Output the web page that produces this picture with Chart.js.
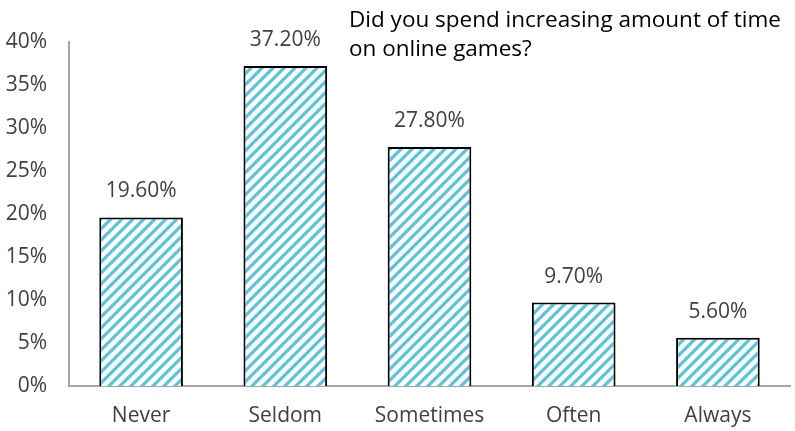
<!DOCTYPE html>
<html>
<head>
<meta charset="utf-8">
<script src="https://cdn.jsdelivr.net/npm/chart.js@4/dist/chart.umd.min.js"></script>
<style>
  body { margin: 0; background: #fff; }
</style>
</head>
<body>
<canvas id="games" width="795" height="431"></canvas>
<script>
const categories = ["Never", "Seldom", "Sometimes", "Often", "Always"];
const shares = [19.6, 37.2, 27.8, 9.7, 5.6];
const yTicks = [0, 5, 10, 15, 20, 25, 30, 35, 40];
const titleLines = ["Did you spend increasing amount of time", "on online games?"];

const FONT = "'Open Sans'";
const TEXT = "#404040";

// diagonal stripe fill
function stripes() {
  const c = document.createElement('canvas');
  c.width = 11; c.height = 11;
  const g = c.getContext('2d');
  g.fillStyle = '#fff';
  g.fillRect(0, 0, 11, 11);
  g.strokeStyle = '#5BC3DA';
  g.lineWidth = 3.2;
  g.beginPath();
  g.moveTo(-5.5, 5.5); g.lineTo(5.5, -5.5);
  g.moveTo(0, 11); g.lineTo(11, 0);
  g.moveTo(5.5, 16.5); g.lineTo(16.5, 5.5);
  g.stroke();
  return g.createPattern(c, 'repeat');
}

const labelPlugin = {
  id: 'labels',
  afterDatasetsDraw(chart) {
    const ctx = chart.ctx;
    ctx.save();
    ctx.fillStyle = TEXT;
    ctx.font = "21px " + FONT;
    ctx.textAlign = 'center';
    ctx.textBaseline = 'middle';
    chart.getDatasetMeta(0).data.forEach((bar, i) => {
      ctx.fillText(shares[i].toFixed(2) + '%', bar.x, bar.y - 26);
    });
    ctx.font = "22.5px " + FONT;
    ctx.fillStyle = '#000';
    ctx.textAlign = 'left';
    ctx.textBaseline = 'middle';
    titleLines.forEach((t, i) => ctx.fillText(t, 349, 21 + i * 29));
    ctx.restore();
  }
};

new Chart(document.getElementById('games'), {
  type: 'bar',
  data: {
    labels: categories,
    datasets: [{
      data: shares,
      backgroundColor: stripes(),
      borderColor: '#000',
      borderWidth: 2,
      categoryPercentage: 0.58,
      barPercentage: 1
    }]
  },
  options: {
    responsive: false,
    animation: false,
    layout: { padding: { top: 42, right: 5, left: 0, bottom: 0 } },
    plugins: { legend: { display: false }, tooltip: { enabled: false } },
    scales: {
      x: {
        grid: { display: false },
        border: { color: '#A6A6A6', width: 2 },
        ticks: { color: TEXT, font: { family: FONT, size: 21 }, padding: 9, autoSkip: false, maxRotation: 0 },
        afterFit(s) { s.height = 45; }
      },
      y: {
        min: 0, max: 40,
        grid: { display: false },
        border: { color: '#A6A6A6', width: 2 },
        afterBuildTicks(s) { s.ticks = yTicks.map(v => ({ value: v })); },
        ticks: {
          color: TEXT, font: { family: FONT, size: 21 }, padding: 14,
          callback: v => v + '%'
        },
        afterFit(s) { s.width = 69; }
      }
    }
  },
  plugins: [labelPlugin]
});
</script>
</body>
</html>
